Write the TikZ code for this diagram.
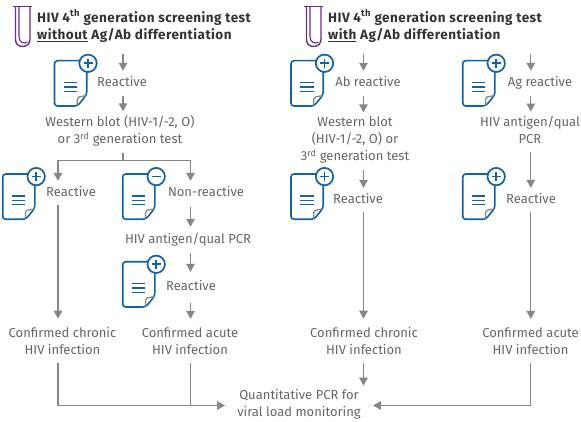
\documentclass[tikz,border=0pt]{standalone}
\usepackage{fontspec}
\setmainfont{Fira Sans}
\newfontfamily\ttlfont[LetterSpace=3.4]{Fira Sans}
\usetikzlibrary{arrows.meta}
\definecolor{linegray}{HTML}{8B8682}
\definecolor{textgray}{HTML}{666666}
\definecolor{titlegray}{HTML}{333333}
\definecolor{docblue}{HTML}{0F62AC}
\definecolor{tubepurple}{HTML}{6F2C8F}
\newcommand{\reportdoc}{
\draw [docblue,line width=1.6pt,rounded corners=3pt,fill=white] (32.2,34) -- (23,45.3) -- (0,45.3) -- (0,0) -- (32.2,0) -- cycle;
\draw [linegray,line width=1.3pt,rounded corners=2pt] (22.7,44.6) -- (22.7,36.5) -- (31.4,35);
\draw [docblue,line width=1.3pt] (9,22) -- (22.5,22);
\draw [docblue,line width=1.3pt] (9,26.4) -- (22.5,26.4);
\draw [docblue,line width=1.3pt] (9,30.6) -- (22.5,30.6);
\draw [docblue,line width=1.7pt,fill=white] (33.5,2.6) circle (8.7);
\draw [docblue,line width=1.8pt] (29,2.6) -- (38,2.6);
}
\tikzset{
pics/reportplus/.style={code={\reportdoc \draw [docblue,line width=1.8pt] (33.5,-1.9) -- (33.5,7.1);}},
pics/reportminus/.style={code={\reportdoc}},
pics/testtube/.style={code={
\draw [tubepurple,line width=1.4pt] (0,0) -- (19,0);
\draw [tubepurple,line width=1.4pt] (2.5,0) -- (2.5,33) .. controls (2.5,37) and (5,40) .. (9.5,40) .. controls (14,40) and (17,37) .. (17,33) -- (17,0);
\draw [tubepurple,line width=1.1pt] (6,0) -- (6,30) .. controls (6,36) and (11,38) .. (14.5,35.5);
}},
lbl/.style={align=center,inner xsep=0pt,inner ysep=3.5pt,text=textgray,
  font=\fontsize{13}{17}\selectfont,execute at begin node=\strut,execute at end node=\strut},
ttl/.style={align=left,anchor=west,inner xsep=0pt,inner ysep=3.5pt,text=titlegray,
  font=\ttlfont\fontsize{13.5}{17}\selectfont\bfseries,execute at begin node=\strut,execute at end node=\strut},
flow/.style={linegray,line width=1.3pt,-{Triangle[length=8pt,width=8.5pt]}},
stem/.style={linegray,line width=1.3pt}
}
\begin{document}
\begin{tikzpicture}[x=1pt,y=-1pt]
\useasboundingbox (0,0) rectangle (581,422);
\coordinate (colA) at (123,0);
\coordinate (colL) at (58,0);
\coordinate (colM) at (190.5,0);
\coordinate (colB) at (363.5,0);
\coordinate (colC) at (530.8,0);
\coordinate (splitA) at (123,160.5);
\pic at (13,6.5) {testtube};
\pic at (304,6.5) {testtube};
\pic at (54.5,60.7) {reportplus};
\pic at (2.7,174) {reportplus};
\pic at (122.7,174) {reportminus};
\pic at (122.7,261.7) {reportplus};
\pic at (291,60.7) {reportplus};
\pic at (462.7,60.7) {reportplus};
\pic at (291,174) {reportplus};
\pic at (462.7,174) {reportplus};
\node [ttl] (titleA) at (37,27) {HIV 4\textsuperscript{th} generation screening test\\\underline{without} Ag/Ab differentiation};
\node [ttl] (titleB) at (328,27) {HIV 4\textsuperscript{th} generation screening test\\\underline{with} Ag/Ab differentiation};
\node [lbl] (reactA) at (122,83) {Reactive};
\node [lbl] (westA) at (120,132.5) {Western blot (HIV-1/-2, O)\\or 3\textsuperscript{rd} generation test};
\node [lbl] (reactL) at (71,193) {Reactive};
\node [lbl] (nonreact) at (206,193) {Non-reactive};
\node [lbl] (qualM) at (188,240) {HIV antigen/qual PCR};
\node [lbl] (reactM) at (191,287) {Reactive};
\node [lbl] (chronicL) at (62.5,343.5) {Confirmed chronic\\HIV infection};
\node [lbl] (acuteM) at (190,343.5) {Confirmed acute\\HIV infection};
\node [lbl] (reactB) at (368,83) {Ab reactive};
\node [lbl] (westB) at (355,141.5) {Western blot\\(HIV-1/-2, O) or\\3\textsuperscript{rd} generation test};
\node [lbl] (reactB2) at (358,200) {Reactive};
\node [lbl] (chronicB) at (364,343.5) {Confirmed chronic\\HIV infection};
\node [lbl] (reactC) at (540,83) {Ag reactive};
\node [lbl] (qualC) at (530,132.5) {HIV antigen/qual\\PCR};
\node [lbl] (reactC2) at (531,200) {Reactive};
\node [lbl] (acuteC) at (530.5,343.5) {Confirmed acute\\HIV infection};
\node [lbl,inner xsep=12pt] (quant) at (299,405.5) {Quantitative PCR for\\viral load monitoring};
\draw [flow,shorten <=6pt] (titleA.south -| colA) -- (reactA.north -| colA);
\draw [flow,shorten <=1pt,shorten >=1pt] (reactA.south -| colA) -- (westA.north -| colA);
\draw [stem] (westA.south -| colA) -- (splitA);
\draw [flow] (splitA) -| (reactL.north -| colL);
\draw [flow] (splitA) -| (nonreact.north -| colM);
\draw [flow,shorten >=5pt] (reactL.south -| colL) -- (chronicL.north -| colL);
\draw [flow,shorten <=2pt,shorten >=1pt] (nonreact.south -| colM) -- (qualM.north -| colM);
\draw [flow,shorten <=1pt,shorten >=3pt] (qualM.south -| colM) -- (reactM.north -| colM);
\draw [flow,shorten <=4pt,shorten >=5pt] (reactM.south -| colM) -- (acuteM.north -| colM);
\draw [flow,shorten <=6pt] (titleB.south -| colB) -- (reactB.north -| colB);
\draw [flow,shorten <=1pt,shorten >=1pt] (reactB.south -| colB) -- (westB.north -| colB);
\draw [flow] (westB.south -| colB) -- (reactB2.north -| colB);
\draw [flow,shorten >=5pt] (reactB2.south -| colB) -- (chronicB.north -| colB);
\draw [flow] (chronicB.south -| colB) -- (quant.north -| colB);
\draw [flow,shorten <=6pt] (titleB.south -| colC) -- (reactC.north -| colC);
\draw [flow,shorten <=1pt,shorten >=1pt] (reactC.south -| colC) -- (qualC.north -| colC);
\draw [flow] (qualC.south -| colC) -- (reactC2.north -| colC);
\draw [flow,shorten >=5pt] (reactC2.south -| colC) -- (acuteC.north -| colC);
\draw [flow] (chronicL.south -| colL) |- (quant.west);
\draw [stem] (acuteM.south -| colM) -- (quant.west -| colM);
\draw [flow] (acuteC.south -| colC) |- (quant.east);
\end{tikzpicture}
\end{document}
